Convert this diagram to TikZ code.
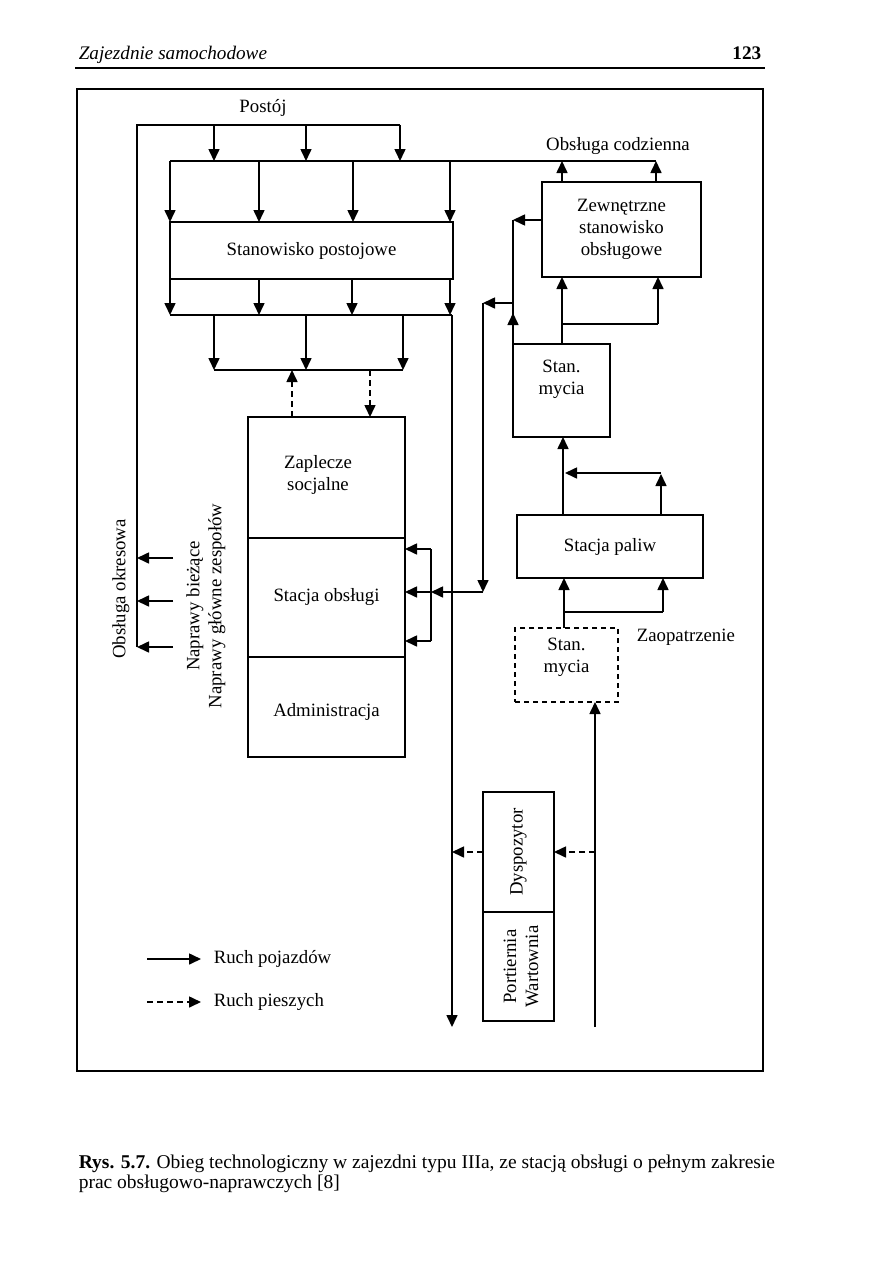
\documentclass[tikz,border=0pt]{standalone}
\usepackage{fontspec}
\setmainfont{Liberation Serif}
\usetikzlibrary{arrows.meta}
\begin{document}
\begin{tikzpicture}[x=0.5pt,y=-0.5pt, line width=0.8pt,
  font=\fontsize{9.4}{11}\selectfont,
  arr/.style={-{Triangle[length=6pt,width=5.5pt]}},
  darr/.style={arr, dash pattern=on 3pt off 2pt},
  box/.style={draw, line width=0.8pt, inner sep=0pt, outer sep=0pt, align=center},
  txt/.style={inner sep=0pt, align=center}]

\useasboundingbox (0,0) rectangle (893,1263);

% header
\node[txt, anchor=base west, font=\fontsize{9.6}{11}\selectfont\itshape] (hdr) at (78,60) {Zajezdnie samochodowe};
\node[txt, anchor=base east, font=\fontsize{9.6}{11}\selectfont\bfseries] (pg) at (762,60) {123};
\coordinate (hrl) at (75,68); \coordinate (hrr) at (765,68);
\draw[line width=1pt] (hrl) -- (hrr);

% frame
\coordinate (fnw) at (77,89); \coordinate (fse) at (763,1071);
\draw (fnw) rectangle (fse);

% boxes
\node[box, minimum width=141.5pt, minimum height=28.5pt] (sp) at (311.5,250.5) {Stanowisko postojowe};
\node[box, minimum width=79.5pt, minimum height=47.5pt] (ze) at (621.5,229.5) {Zewnętrzne\\stanowisko\\obsługowe};
\node[box, minimum width=48.5pt, minimum height=46.5pt] (sm1) at (561.5,390.5) {};
\node[txt] (sm1t) at (561.5,379) {Stan.\\mycia};
\node[box, minimum width=93pt, minimum height=31.5pt] (spal) at (610,546.5) {Stacja paliw};
\node[box, dash pattern=on 2.5pt off 2pt, minimum width=51.5pt, minimum height=37pt] (sm2) at (566.5,665) {};
\node[txt] (sm2t) at (566.5,657) {Stan.\\mycia};
\node[box, minimum width=78.5pt, minimum height=60.5pt] (zs) at (326.5,477.5) {};
\node[txt] (zst) at (318,475) {Zaplecze\\socjalne};
\node[box, minimum width=78.5pt, minimum height=59.5pt] (so) at (326.5,597.5) {Stacja obsługi};
\node[box, minimum width=78.5pt, minimum height=50pt] (adm) at (326.5,707) {};
\node[txt] (admt) at (326.5,712) {Administracja};
\node[box, minimum width=35.5pt, minimum height=60pt] (dys) at (518.5,852) {};
\node[txt, rotate=90] (dyst) at (518.5,852) {Dyspozytor};
\node[box, minimum width=35.5pt, minimum height=54.5pt] (por) at (518.5,966.5) {};
\node[txt, rotate=90] (port) at (521,966.5) {Portiernia\\Wartownia};

% labels
\node[txt] (postoj) at (263,108) {Postój};
\node[txt] (obcodz) at (618,146) {Obsługa codzienna};
\node[txt, anchor=west] (zaop) at (636,637) {Zaopatrzenie};
\node[txt, rotate=90] (obokr) at (121,589) {Obsługa okresowa};
\node[txt, rotate=90] (napr) at (206,606) {Naprawy bieżące\\Naprawy główne zespołów};

% top loop
\coordinate (tl) at (137,125); \coordinate (tr) at (400,125); \coordinate (lb) at (137,647);
\draw (lb) -- (tl) -- (tr);
\foreach \x in {214,306,400} \draw[arr] (\x,125) -- (\x,161);
\coordinate (b1l) at (170,161); \coordinate (b1r) at (656,161);
\draw (b1l) -- (b1r);
\foreach \x in {562,656} \draw[arr] (\x,0 |- ze.north) -- (\x,161);
\foreach \x in {170,259,353,450} \draw[arr] (\x,161) -- (\x,0 |- sp.north);
\foreach \x in {170,259,352,450} \draw[arr] (\x,0 |- sp.south) -- (\x,315);
\coordinate (b2l) at (170,315); \coordinate (b2r) at (452,315);
\draw (b2l) -- (b2r);
\coordinate (down) at (452,1027);
\draw[arr] (b2r) -- (down);
\foreach \x in {214,306,403} \draw[arr] (\x,315) -- (\x,370);
\coordinate (b3l) at (214,370); \coordinate (b3r) at (403,370);
\draw (b3l) -- (b3r);
\draw[darr] (292,0 |- zs.north) -- (292,370);
\draw[darr] (370,370) -- (370,0 |- zs.north);

% left arrows
\foreach \y in {558,601,647} \draw[arr] (173,\y) -- (137,\y);

% right column
\coordinate (j513) at (513,220);
\draw (sm1.north west) -- (j513);
\draw[arr] (sm1.north west) -- (513,313);
\draw[arr] (ze.west |- j513) -- (j513);
\coordinate (j483) at (483,303);
\draw[arr] (513,303) -- (j483);
\coordinate (k483) at (483,592);
\draw[arr] (j483) -- (k483);
\coordinate (br) at (431,592);
\draw[arr] (k483) -- (br);
\draw (431,549) -- (431,641);
\foreach \y in {549,592,641} \draw[arr] (431,\y) -- (so.east |- 0,\y);

\coordinate (u1) at (562,324); \coordinate (u2) at (658,324);
\draw (sm1.north -| u1) -- (u1) -- (u2);
\draw[arr] (u1) -- (u1 |- ze.south);
\draw[arr] (u2) -- (u2 |- ze.south);

\draw[arr] (563,0 |- spal.north) -- (563,0 |- sm1.south);
\coordinate (v1) at (661,473);
\draw[arr] (661,0 |- spal.north) -- (661,474);
\draw[arr] (v1) -- (565,473);

\coordinate (w1) at (564,612); \coordinate (w2) at (663,612);
\draw (sm2.north -| w1) -- (w1) -- (w2);
\draw[arr] (w1) -- (w1 |- spal.south);
\draw[arr] (w2) -- (w2 |- spal.south);

\coordinate (in) at (595,1027);
\draw[arr] (in) -- (in |- sm2.south);

\draw[darr] (dys.west) -- (452,852);
\draw[darr] (595,852) -- (dys.east);

% legend
\coordinate (l1a) at (147,959); \coordinate (l1b) at (201,959);
\draw[arr] (l1a) -- (l1b);
\node[txt, anchor=west] (l1t) at (213,959) {Ruch pojazdów};
\coordinate (l2a) at (147,1002); \coordinate (l2b) at (201,1002);
\draw[darr] (l2a) -- (l2b);
\node[txt, anchor=west] (l2t) at (213,1002) {Ruch pieszych};

% caption
\node[txt, anchor=base west, font=\fontsize{9.75}{11}\selectfont] (cap1) at (78,1168) {\textbf{Rys. 5.7.} Obieg technologiczny w zajezdni typu IIIa, ze stacją obsługi o pełnym zakresie};
\node[txt, anchor=base west, font=\fontsize{9.75}{11}\selectfont] (cap2) at (78,1188) {prac obsługowo-naprawczych [8]};
\end{tikzpicture}
\end{document}
